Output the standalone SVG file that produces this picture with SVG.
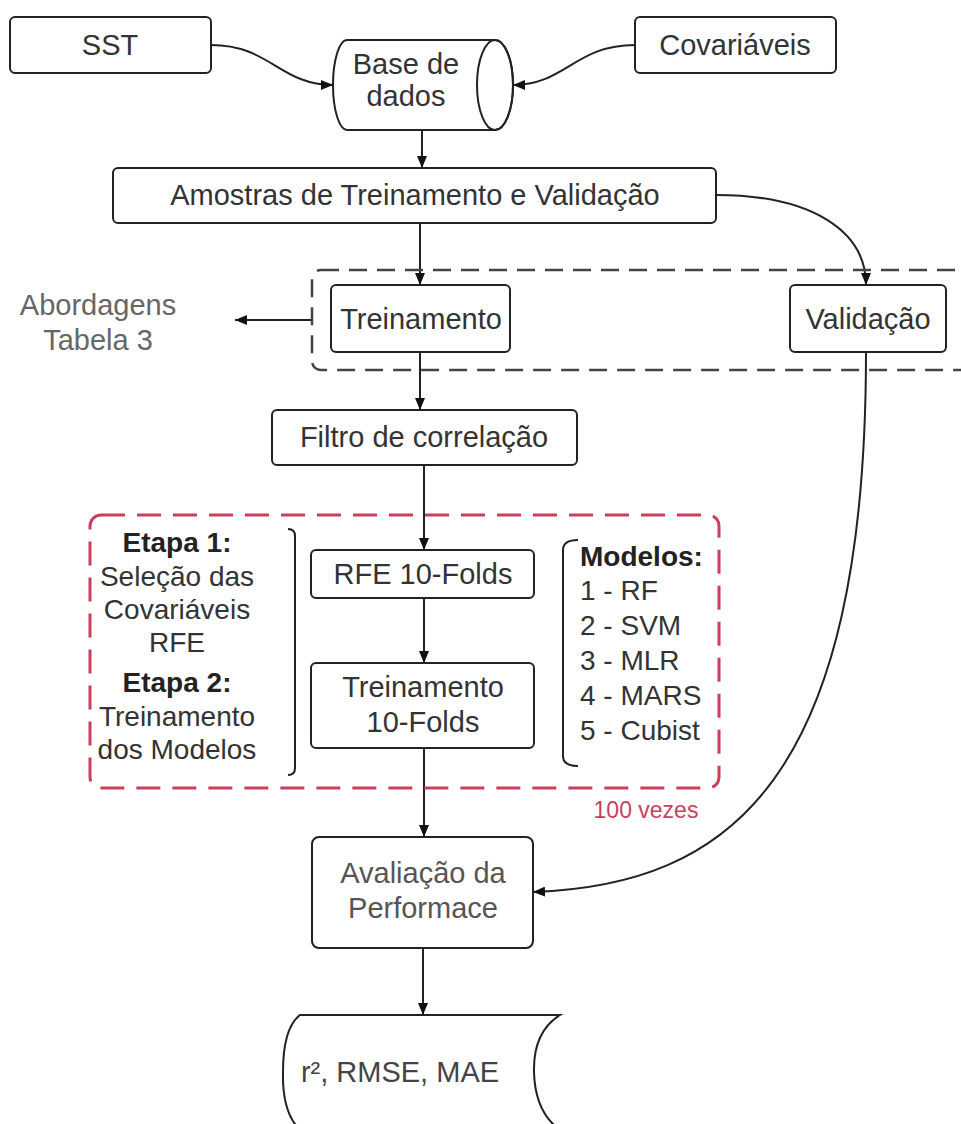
<svg xmlns="http://www.w3.org/2000/svg" width="961" height="1124" viewBox="0 0 961 1124">
<defs>
<marker id="ah" viewBox="0 0 12 10" refX="12" refY="5" markerWidth="12" markerHeight="10" markerUnits="userSpaceOnUse" orient="auto">
<path d="M0,0 L12,5 L0,10 Z" fill="#111"/>
</marker>
</defs>
<style>
.box{fill:#fff;stroke:#222;stroke-width:2}
.t{font-family:"Liberation Sans",Arial,sans-serif;font-size:29px;fill:#333;text-anchor:middle}
.p{font-family:"Liberation Sans",Arial,sans-serif;font-size:28px;fill:#333;text-anchor:middle}
.m{font-family:"Liberation Sans",Arial,sans-serif;font-size:28px;fill:#333}
.b{font-weight:bold;fill:#222}
.c{fill:none;stroke:#222;stroke-width:2}
</style>
<rect width="961" height="1124" fill="#fff"/>
<g id="connectors">
<path class="c" d="M211,45 C270,45 280,85 333,85" marker-end="url(#ah)"/>
<path class="c" d="M635,45 C575,45 565,85 513,85" marker-end="url(#ah)"/>
<path class="c" d="M422,130 L422,168" marker-end="url(#ah)"/>
<path class="c" d="M420,223 L420,285" marker-end="url(#ah)"/>
<path class="c" d="M716,195 C810,195 866,230 866,285" marker-end="url(#ah)"/>
<path class="c" d="M312,320 L235,320" marker-end="url(#ah)"/>
<path class="c" d="M420,352 L420,410" marker-end="url(#ah)"/>
<path class="c" d="M424,465 L424,550" marker-end="url(#ah)"/>
<path class="c" d="M424,598 L424,663" marker-end="url(#ah)"/>
<path class="c" d="M424,748 L424,837" marker-end="url(#ah)"/>
<path class="c" d="M423,948 L423,1015" marker-end="url(#ah)"/>
<path class="c" d="M866,352 C866,780 730,885 533,892" marker-end="url(#ah)"/>
</g>
<g id="grupo-treino-validacao">
<rect x="312" y="270" width="680" height="100" rx="9" fill="none" stroke="#444" stroke-width="2.5" stroke-dasharray="18 10"/>
</g>
<g id="grupo-100-vezes">
<rect x="90" y="515" width="629" height="273" rx="11" fill="none" stroke="#c93f5c" stroke-width="3" stroke-dasharray="24 12"/>
<text x="646" y="818" font-family="Liberation Sans, Arial, sans-serif" font-size="23" fill="#c93f5c" text-anchor="middle">100 vezes</text>
</g>
<g id="sst">
<rect class="box" x="10" y="17" width="201" height="56" rx="5"/>
<text class="t" x="110" y="55">SST</text>
</g>
<g id="covariaveis">
<rect class="box" x="635" y="17" width="201" height="56" rx="5"/>
<text class="t" x="735" y="55">Covariáveis</text>
</g>
<g id="base-de-dados">
<path class="box" d="M347,40 L495,40 A18,45 0 0 1 495,130 L347,130 A14,45 0 0 1 347,40 Z"/>
<ellipse cx="495" cy="85" rx="18" ry="45" fill="none" stroke="#222" stroke-width="2"/>
<text class="t" x="406" y="74">Base de</text>
<text class="t" x="406" y="106">dados</text>
</g>
<g id="amostras">
<rect class="box" x="113" y="168" width="603" height="55" rx="5"/>
<text class="t" x="415" y="205">Amostras de Treinamento e Validação</text>
</g>
<g id="treinamento">
<rect class="box" x="331" y="285" width="179" height="67" rx="5"/>
<text class="t" x="421" y="329">Treinamento</text>
</g>
<g id="validacao">
<rect class="box" x="790" y="285" width="156" height="67" rx="5"/>
<text class="t" x="868" y="329">Validação</text>
</g>
<g id="abordagens">
<text class="t" x="98" y="315" style="fill:#666">Abordagens</text>
<text class="t" x="98" y="350" style="fill:#666">Tabela 3</text>
</g>
<g id="filtro">
<rect class="box" x="272" y="410" width="305" height="55" rx="5"/>
<text class="t" x="424" y="447">Filtro de correlação</text>
</g>
<g id="etapas">
<text class="p b" x="177" y="552">Etapa 1:</text>
<text class="p" x="177" y="586">Seleção das</text>
<text class="p" x="177" y="619">Covariáveis</text>
<text class="p" x="177" y="652">RFE</text>
<text class="p b" x="177" y="692">Etapa 2:</text>
<text class="p" x="177" y="726">Treinamento</text>
<text class="p" x="177" y="759">dos Modelos</text>
<path class="c" d="M288,529 Q295,529 295,536 L295,768 Q295,775 288,775"/>
</g>
<g id="rfe">
<rect class="box" x="311" y="550" width="223" height="48" rx="5"/>
<text class="t" x="423" y="584">RFE 10-Folds</text>
</g>
<g id="treinamento-10-folds">
<rect class="box" x="311" y="663" width="223" height="85" rx="5"/>
<text class="t" x="423" y="697">Treinamento</text>
<text class="t" x="423" y="732">10-Folds</text>
</g>
<g id="modelos">
<path class="c" d="M578,540 Q563,540 563,550 L563,756 Q563,766 578,766"/>
<text class="m b" x="580" y="566">Modelos:</text>
<text class="m" x="580" y="600">1 - RF</text>
<text class="m" x="580" y="635">2 - SVM</text>
<text class="m" x="580" y="670">3 - MLR</text>
<text class="m" x="580" y="705">4 - MARS</text>
<text class="m" x="580" y="740">5 - Cubist</text>
</g>
<g id="avaliacao">
<rect class="box" x="312" y="837" width="221" height="111" rx="7"/>
<text class="t" x="423" y="883" style="fill:#555">Avaliação da</text>
<text class="t" x="423" y="918" style="fill:#555">Performace</text>
</g>
<g id="metricas">
<path class="box" d="M300,1015 L560,1015 Q533,1032 534,1072 Q535,1112 560,1130 L300,1130 Q282,1112 283,1072 Q283,1028 300,1015 Z"/>
<text class="t" x="400" y="1082" style="fill:#444">r², RMSE, MAE</text>
</g>
</svg>
